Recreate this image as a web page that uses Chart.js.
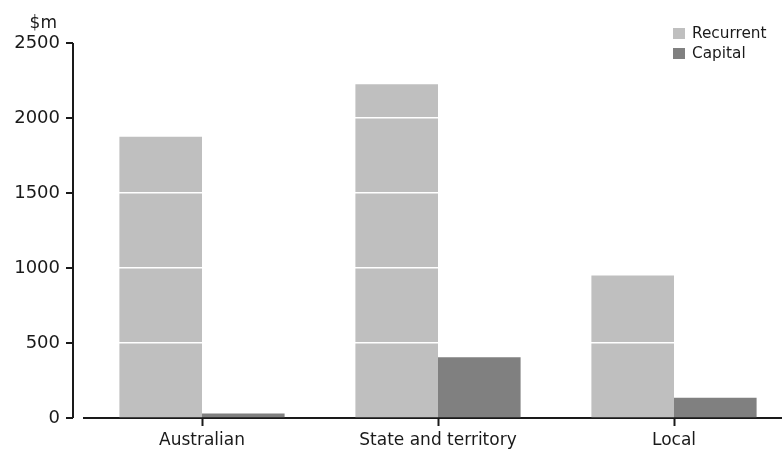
<!DOCTYPE html>
<html>
<head>
<meta charset="utf-8">
<script src="https://cdn.jsdelivr.net/npm/chart.js@4"></script>
<style>
  html, body { margin: 0; background: #fff; overflow: hidden; }
  #wrap { position: relative; width: 782px; height: 453px; overflow: hidden; }
  #legend { position: absolute; left: 673px; top: 23px; font-family: "DejaVu Sans", sans-serif; font-size: 15.3px; color: #1a1a1a; }
  #legend div { height: 20px; line-height: 20px; white-space: nowrap; }
  #legend span { display: inline-block; width: 12px; height: 11px; margin-right: 7px; vertical-align: -1px; }
</style>
</head>
<body>
<div id="wrap">
  <canvas id="chart" width="792" height="453"></canvas>
  <div id="legend"></div>
</div>
<script>
// data
const categories = ['Australian', 'State and territory', 'Local'];
const recurrent = [1875, 2225, 950];
const capital = [30, 405, 135];
const yTicks = [0, 500, 1000, 1500, 2000, 2500];

const seriesNames = ['Recurrent', 'Capital'];
const seriesColors = ['#bfbfbf', '#808080'];
const axisColor = '#1a1a1a';
const font = '"DejaVu Sans", sans-serif';

// y axis line sits a bit left of the plot, like the original
const yAxisPlugin = {
  id: 'yAxisLine',
  afterDraw(chart) {
    const ctx = chart.ctx;
    const y = chart.scales.y;
    const x0 = chart.chartArea.left - 11;
    ctx.save();
    ctx.strokeStyle = axisColor;
    ctx.lineWidth = 2;
    ctx.beginPath();
    ctx.moveTo(x0, y.getPixelForValue(2500));
    ctx.lineTo(x0, y.getPixelForValue(0));
    yTicks.forEach(v => {
      const py = y.getPixelForValue(v);
      ctx.moveTo(x0 - 7, py);
      ctx.lineTo(x0, py);
    });
    ctx.stroke();
    // unit label
    ctx.fillStyle = axisColor;
    ctx.font = '17px ' + font;
    ctx.textAlign = 'right';
    ctx.textBaseline = 'alphabetic';
    ctx.fillText('$m', 57, 28);
    ctx.restore();
  }
};

new Chart(document.getElementById('chart'), {
  type: 'bar',
  data: {
    labels: categories,
    datasets: [
      { label: seriesNames[0], data: recurrent, backgroundColor: seriesColors[0] },
      { label: seriesNames[1], data: capital, backgroundColor: seriesColors[1] }
    ]
  },
  options: {
    responsive: false,
    animation: false,
    layout: { padding: { top: 43, right: 0, left: 0, bottom: 0 } },
    datasets: { bar: { categoryPercentage: 0.7, barPercentage: 1.0 } },
    plugins: { legend: { display: false }, tooltip: { enabled: false } },
    scales: {
      x: {
        grid: { display: true, drawOnChartArea: false, offset: false, tickLength: 8, tickColor: axisColor, tickWidth: 2 },
        border: { display: true, color: axisColor, width: 2 },
        ticks: { color: axisColor, font: { family: font, size: 17 }, padding: 4, maxRotation: 0 },
        afterFit(scale) { scale.height = 35; }
      },
      y: {
        min: 0,
        max: 2500,
        afterBuildTicks(scale) { scale.ticks = yTicks.map(v => ({ value: v })); },
        grid: {
          z: 1,
          drawTicks: false,
          lineWidth: 1.5,
          color: ctx => (ctx.tick && ctx.tick.value === 0) ? 'rgba(0,0,0,0)' : '#ffffff'
        },
        border: { display: false },
        ticks: {
          color: axisColor,
          font: { family: font, size: 18 },
          padding: 24,
          callback: v => String(v)
        },
        afterFit(scale) { scale.width = 84; }
      }
    }
  },
  plugins: [yAxisPlugin]
});

// legend as html text
const legend = document.getElementById('legend');
seriesNames.forEach((name, i) => {
  const row = document.createElement('div');
  row.innerHTML = '<span style="background:' + seriesColors[i] + '"></span>' + name;
  legend.appendChild(row);
});
</script>
</body>
</html>
